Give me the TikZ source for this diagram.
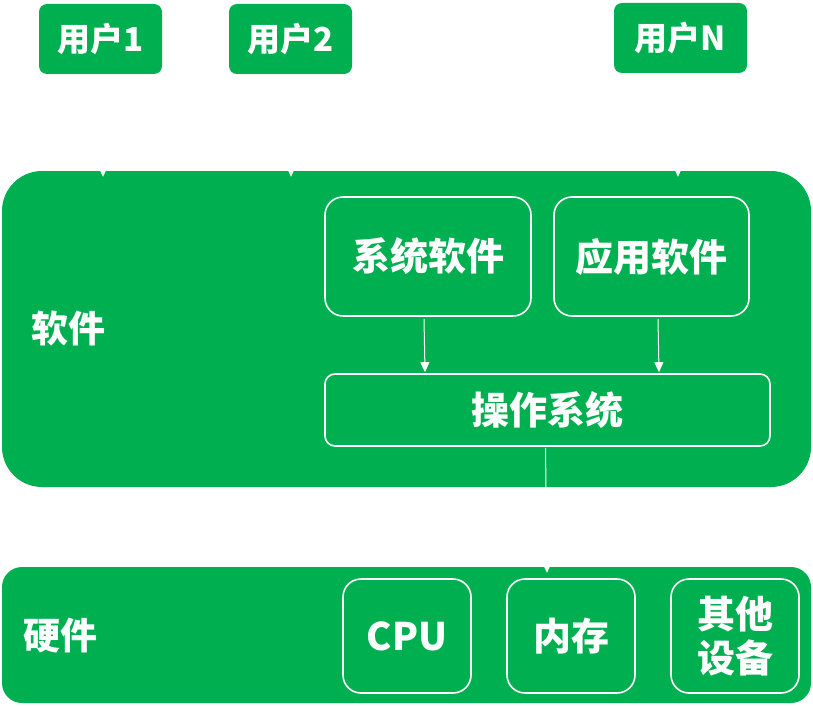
\documentclass[tikz,border=0pt]{standalone}
\usepackage{fontspec}
\setmainfont{Noto Sans CJK SC}
\usepackage{tikz}
\usetikzlibrary{arrows.meta,positioning,calc}
\definecolor{verde}{RGB}{0,176,80}
\tikzset{
  usuario/.style={rectangle, fill=verde, text=white, rounded corners=8pt,
                  minimum width=123pt, minimum height=70pt, inner sep=0pt,
                  font=\bfseries\fontsize{33}{38}\selectfont},
  capa/.style={rectangle, fill=verde, inner sep=0pt},
  modulo/.style={rectangle, draw=white, line width=1.6pt, text=white,
                 rounded corners=18pt, inner sep=0pt, align=center,
                 font=\bfseries\fontsize{38}{44}\selectfont},
  etiqueta/.style={text=white, font=\bfseries\fontsize{37}{44}\selectfont},
  flecha/.style={-{Triangle[length=10pt,width=9pt]}, white, line width=1pt}
}
\begin{document}
\begin{tikzpicture}[x=1pt,y=-1pt]
  \useasboundingbox (0,0) rectangle (813,706);
  % --- Usuarios ---
  \node[usuario] (U1) at (100.5,39) {用户1};
  \node[usuario] (U2) at (290.5,39) {用户2};
  \node[usuario, minimum width=133pt] (UN) at (680.5,38) {用户N};

  % --- Capas ---
  \node[capa, rounded corners=40pt, minimum width=809pt, minimum height=316pt] (SW) at (406.5,329) {};
  \node[capa, rounded corners=20pt, minimum width=809pt, minimum height=136pt] (HW) at (406.5,635) {};
  \node[etiqueta] (lSW) at (68,328) {软件};
  \node[etiqueta] (lHW) at (60,636) {硬件};

  % --- Software ---
  \node[modulo, minimum width=206pt, minimum height=119pt] (SYS) at (428,256.5) {系统软件};
  \node[modulo, minimum width=195pt, minimum height=119pt] (APP) at (651.5,256.5) {应用软件};
  \node[modulo, rounded corners=10pt, minimum width=445pt, minimum height=72pt] (OS) at (547.5,410) {操作系统};

  % --- Hardware ---
  \node[modulo, minimum width=128pt, minimum height=114pt] (CPU) at (407,636) {CPU};
  \node[modulo, minimum width=128pt, minimum height=114pt] (MEM) at (571,636) {内存};
  \node[modulo, minimum width=128pt, minimum height=114pt] (DEV) at (735,636) {其他\\设备};

  % --- Flechas ---
  \foreach \n/\dx in {U1/2.5,U2/0.5,UN/-2.5}
    \draw[flecha] ($(\n.south)+(\dx,0)$) -- ($(\n.south |- SW.north)+(\dx,6)$);
  \draw[flecha] ($(SYS.south)+(-4,2)$) -- ($(SYS.south |- OS.north)+(-3,-1)$);
  \draw[flecha] ($(APP.south)+(6.5,2)$) -- ($(APP.south |- OS.north)+(7.5,-1)$);
  \draw[flecha] ($(OS.south)+(-2,1)$) -- ($(HW.north)+(140.5,6)$);
\end{tikzpicture}
\end{document}
